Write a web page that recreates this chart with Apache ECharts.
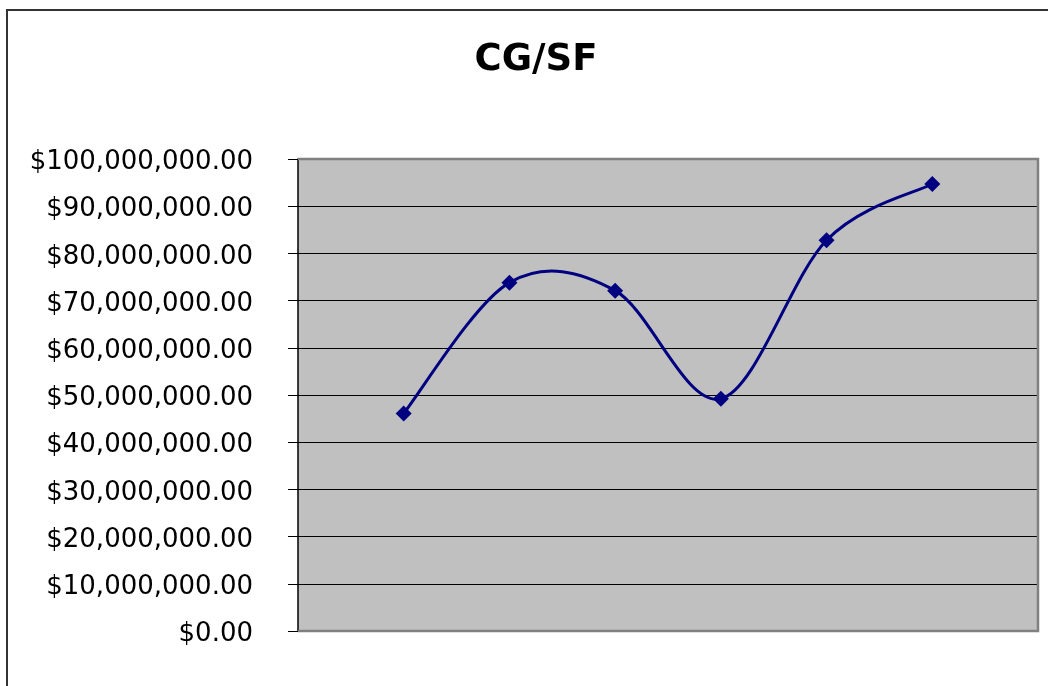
<!DOCTYPE html>
<html>
<head>
<meta charset="utf-8">
<style>
  html, body { margin: 0; padding: 0; background: #fff; }
  #chart { width: 1048px; height: 686px; }
</style>
<script src="https://cdn.jsdelivr.net/npm/echarts@6/dist/echarts.min.js"></script>
</head>
<body>
<div id="chart"></div>
<script>
// Data
const chartTitle = 'CG/SF';
const xPositions = [1, 2, 3, 4, 5, 6];
const values = [46100000, 73800000, 72100000, 49200000, 82800000, 94700000];
const yMin = 0;
const yMax = 100000000;
const yInterval = 10000000;

const chart = echarts.init(document.getElementById('chart'));

const seriesData = xPositions.map((x, i) => [x, values[i]]);

const GL = 298, GT = 159, GR = 10, GB = 55;
const W = 1048, H = 686;

// Excel-like smoothed line (Catmull-Rom -> cubic Bezier), points mapped through the chart's own axes
function renderSmooth(params, api) {
  if (params.dataIndex !== 0) return null;
  const pts = seriesData.map(d => api.coord(d));
  const n = pts.length;
  let path = 'M' + pts[0][0] + ' ' + pts[0][1];
  for (let i = 0; i < n - 1; i++) {
    const p0 = pts[Math.max(i - 1, 0)];
    const p1 = pts[i];
    const p2 = pts[i + 1];
    const p3 = pts[Math.min(i + 2, n - 1)];
    const c1x = p1[0] + (p2[0] - p0[0]) / 6;
    const c1y = p1[1] + (p2[1] - p0[1]) / 6;
    const c2x = p2[0] - (p3[0] - p1[0]) / 6;
    const c2y = p2[1] - (p3[1] - p1[1]) / 6;
    path += ' C' + c1x + ' ' + c1y + ' ' + c2x + ' ' + c2y + ' ' + p2[0] + ' ' + p2[1];
  }
  return {
    type: 'path',
    shape: { pathData: path },
    style: { fill: null, stroke: '#000080', lineWidth: 3 }
  };
}

chart.setOption({
  animation: false,
  backgroundColor: '#ffffff',
  title: {
    text: chartTitle,
    left: 531,
    textAlign: 'center',
    top: 37,
    textStyle: { fontFamily: 'DejaVu Sans', fontSize: 37, fontWeight: 'bold', color: '#000' }
  },
  grid: {
    left: GL, top: GT, right: GR, bottom: GB,
    show: true,
    backgroundColor: '#c0c0c0',
    borderWidth: 0
  },
  xAxis: {
    type: 'value',
    min: 0, max: 7,
    show: false,
    splitLine: { show: false }
  },
  yAxis: {
    type: 'value',
    min: yMin, max: yMax, interval: yInterval,
    axisLine: { show: true, lineStyle: { color: '#000', width: 1.5 } },
    axisTick: { show: true, length: 10, lineStyle: { color: '#000', width: 1 } },
    axisLabel: {
      margin: 45,
      color: '#000',
      formatter: v => '{v|$' + v.toLocaleString('en-US', { minimumFractionDigits: 2, maximumFractionDigits: 2 }) + '}',
      rich: {
        v: {
          fontFamily: 'DejaVu Sans',
          fontSize: 26,
          color: '#000',
          padding: [7, 0, 0, 0]
        }
      }
    },
    splitLine: { show: true, lineStyle: { color: '#000', width: 1 } }
  },
  graphic: [
    {
      type: 'polyline',
      z: 1,
      shape: { points: [[GL, GT], [W - GR, GT], [W - GR, H - GB], [GL, H - GB]] },
      style: { fill: null, stroke: '#808080', lineWidth: 2.5 }
    },
    {
      type: 'rect',
      z: 1,
      shape: { x: 7, y: 10, width: 1200, height: 900 },
      style: { fill: null, stroke: '#333', lineWidth: 2 }
    }
  ],
  series: [
    {
      type: 'custom',
      data: seriesData,
      renderItem: renderSmooth,
      z: 4,
      silent: true
    },
    {
      type: 'scatter',
      data: seriesData,
      symbol: 'diamond',
      symbolSize: 16,
      z: 5,
      itemStyle: { color: '#000080', opacity: 1 }
    }
  ]
});
</script>
</body>
</html>
